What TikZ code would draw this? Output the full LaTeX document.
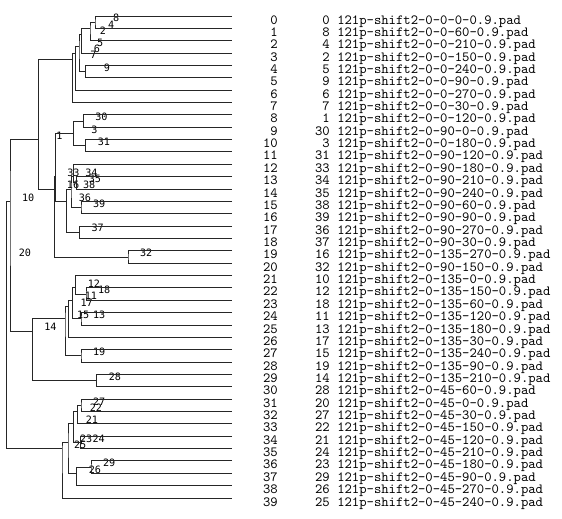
\documentclass[tikz,border=0pt]{standalone}
\usepackage{fontspec}
\newfontfamily\labelfont{DejaVu Sans Mono}

\begin{document}
\begin{tikzpicture}[x=0.75pt,y=-9.27pt,
    branch/.style={draw=black!85,line width=0.7pt},
    joinlabel/.style={font=\labelfont\fontsize{7.6pt}{8pt}\selectfont,inner sep=0pt,anchor=east,xshift=18.4pt,yshift=3pt},
    rowtext/.style={font=\ttfamily\fontsize{10.5pt}{11pt}\selectfont,inner sep=0pt,yshift=-6pt},
    idxtext/.style={rowtext,anchor=base east},
    filetext/.style={rowtext,anchor=base west}]
    \useasboundingbox (0,-1.2945) rectangle (562,40.696);
    % leaves: row end, index, id, file name
    \coordinate (row0)  at (232,0);  \node[idxtext] (idx0)  at (278,0)  {0};  \node[idxtext] (id0)  at (330,0)  {0};  \node[filetext] (file0)  at (337,0)  {121p-shift2-0-0-0-0.9.pad};
    \coordinate (row1)  at (232,1);  \node[idxtext] (idx1)  at (278,1)  {1};  \node[idxtext] (id1)  at (330,1)  {8};  \node[filetext] (file1)  at (337,1)  {121p-shift2-0-0-60-0.9.pad};
    \coordinate (row2)  at (232,2);  \node[idxtext] (idx2)  at (278,2)  {2};  \node[idxtext] (id2)  at (330,2)  {4};  \node[filetext] (file2)  at (337,2)  {121p-shift2-0-0-210-0.9.pad};
    \coordinate (row3)  at (232,3);  \node[idxtext] (idx3)  at (278,3)  {3};  \node[idxtext] (id3)  at (330,3)  {2};  \node[filetext] (file3)  at (337,3)  {121p-shift2-0-0-150-0.9.pad};
    \coordinate (row4)  at (232,4);  \node[idxtext] (idx4)  at (278,4)  {4};  \node[idxtext] (id4)  at (330,4)  {5};  \node[filetext] (file4)  at (337,4)  {121p-shift2-0-0-240-0.9.pad};
    \coordinate (row5)  at (232,5);  \node[idxtext] (idx5)  at (278,5)  {5};  \node[idxtext] (id5)  at (330,5)  {9};  \node[filetext] (file5)  at (337,5)  {121p-shift2-0-0-90-0.9.pad};
    \coordinate (row6)  at (232,6);  \node[idxtext] (idx6)  at (278,6)  {6};  \node[idxtext] (id6)  at (330,6)  {6};  \node[filetext] (file6)  at (337,6)  {121p-shift2-0-0-270-0.9.pad};
    \coordinate (row7)  at (232,7);  \node[idxtext] (idx7)  at (278,7)  {7};  \node[idxtext] (id7)  at (330,7)  {7};  \node[filetext] (file7)  at (337,7)  {121p-shift2-0-0-30-0.9.pad};
    \coordinate (row8)  at (232,8);  \node[idxtext] (idx8)  at (278,8)  {8};  \node[idxtext] (id8)  at (330,8)  {1};  \node[filetext] (file8)  at (337,8)  {121p-shift2-0-0-120-0.9.pad};
    \coordinate (row9)  at (232,9);  \node[idxtext] (idx9)  at (278,9)  {9};  \node[idxtext] (id9)  at (330,9)  {30}; \node[filetext] (file9)  at (337,9)  {121p-shift2-0-90-0-0.9.pad};
    \coordinate (row10) at (232,10); \node[idxtext] (idx10) at (278,10) {10}; \node[idxtext] (id10) at (330,10) {3};  \node[filetext] (file10) at (337,10) {121p-shift2-0-0-180-0.9.pad};
    \coordinate (row11) at (232,11); \node[idxtext] (idx11) at (278,11) {11}; \node[idxtext] (id11) at (330,11) {31}; \node[filetext] (file11) at (337,11) {121p-shift2-0-90-120-0.9.pad};
    \coordinate (row12) at (232,12); \node[idxtext] (idx12) at (278,12) {12}; \node[idxtext] (id12) at (330,12) {33}; \node[filetext] (file12) at (337,12) {121p-shift2-0-90-180-0.9.pad};
    \coordinate (row13) at (232,13); \node[idxtext] (idx13) at (278,13) {13}; \node[idxtext] (id13) at (330,13) {34}; \node[filetext] (file13) at (337,13) {121p-shift2-0-90-210-0.9.pad};
    \coordinate (row14) at (232,14); \node[idxtext] (idx14) at (278,14) {14}; \node[idxtext] (id14) at (330,14) {35}; \node[filetext] (file14) at (337,14) {121p-shift2-0-90-240-0.9.pad};
    \coordinate (row15) at (232,15); \node[idxtext] (idx15) at (278,15) {15}; \node[idxtext] (id15) at (330,15) {38}; \node[filetext] (file15) at (337,15) {121p-shift2-0-90-60-0.9.pad};
    \coordinate (row16) at (232,16); \node[idxtext] (idx16) at (278,16) {16}; \node[idxtext] (id16) at (330,16) {39}; \node[filetext] (file16) at (337,16) {121p-shift2-0-90-90-0.9.pad};
    \coordinate (row17) at (232,17); \node[idxtext] (idx17) at (278,17) {17}; \node[idxtext] (id17) at (330,17) {36}; \node[filetext] (file17) at (337,17) {121p-shift2-0-90-270-0.9.pad};
    \coordinate (row18) at (232,18); \node[idxtext] (idx18) at (278,18) {18}; \node[idxtext] (id18) at (330,18) {37}; \node[filetext] (file18) at (337,18) {121p-shift2-0-90-30-0.9.pad};
    \coordinate (row19) at (232,19); \node[idxtext] (idx19) at (278,19) {19}; \node[idxtext] (id19) at (330,19) {16}; \node[filetext] (file19) at (337,19) {121p-shift2-0-135-270-0.9.pad};
    \coordinate (row20) at (232,20); \node[idxtext] (idx20) at (278,20) {20}; \node[idxtext] (id20) at (330,20) {32}; \node[filetext] (file20) at (337,20) {121p-shift2-0-90-150-0.9.pad};
    \coordinate (row21) at (232,21); \node[idxtext] (idx21) at (278,21) {21}; \node[idxtext] (id21) at (330,21) {10}; \node[filetext] (file21) at (337,21) {121p-shift2-0-135-0-0.9.pad};
    \coordinate (row22) at (232,22); \node[idxtext] (idx22) at (278,22) {22}; \node[idxtext] (id22) at (330,22) {12}; \node[filetext] (file22) at (337,22) {121p-shift2-0-135-150-0.9.pad};
    \coordinate (row23) at (232,23); \node[idxtext] (idx23) at (278,23) {23}; \node[idxtext] (id23) at (330,23) {18}; \node[filetext] (file23) at (337,23) {121p-shift2-0-135-60-0.9.pad};
    \coordinate (row24) at (232,24); \node[idxtext] (idx24) at (278,24) {24}; \node[idxtext] (id24) at (330,24) {11}; \node[filetext] (file24) at (337,24) {121p-shift2-0-135-120-0.9.pad};
    \coordinate (row25) at (232,25); \node[idxtext] (idx25) at (278,25) {25}; \node[idxtext] (id25) at (330,25) {13}; \node[filetext] (file25) at (337,25) {121p-shift2-0-135-180-0.9.pad};
    \coordinate (row26) at (232,26); \node[idxtext] (idx26) at (278,26) {26}; \node[idxtext] (id26) at (330,26) {17}; \node[filetext] (file26) at (337,26) {121p-shift2-0-135-30-0.9.pad};
    \coordinate (row27) at (232,27); \node[idxtext] (idx27) at (278,27) {27}; \node[idxtext] (id27) at (330,27) {15}; \node[filetext] (file27) at (337,27) {121p-shift2-0-135-240-0.9.pad};
    \coordinate (row28) at (232,28); \node[idxtext] (idx28) at (278,28) {28}; \node[idxtext] (id28) at (330,28) {19}; \node[filetext] (file28) at (337,28) {121p-shift2-0-135-90-0.9.pad};
    \coordinate (row29) at (232,29); \node[idxtext] (idx29) at (278,29) {29}; \node[idxtext] (id29) at (330,29) {14}; \node[filetext] (file29) at (337,29) {121p-shift2-0-135-210-0.9.pad};
    \coordinate (row30) at (232,30); \node[idxtext] (idx30) at (278,30) {30}; \node[idxtext] (id30) at (330,30) {28}; \node[filetext] (file30) at (337,30) {121p-shift2-0-45-60-0.9.pad};
    \coordinate (row31) at (232,31); \node[idxtext] (idx31) at (278,31) {31}; \node[idxtext] (id31) at (330,31) {20}; \node[filetext] (file31) at (337,31) {121p-shift2-0-45-0-0.9.pad};
    \coordinate (row32) at (232,32); \node[idxtext] (idx32) at (278,32) {32}; \node[idxtext] (id32) at (330,32) {27}; \node[filetext] (file32) at (337,32) {121p-shift2-0-45-30-0.9.pad};
    \coordinate (row33) at (232,33); \node[idxtext] (idx33) at (278,33) {33}; \node[idxtext] (id33) at (330,33) {22}; \node[filetext] (file33) at (337,33) {121p-shift2-0-45-150-0.9.pad};
    \coordinate (row34) at (232,34); \node[idxtext] (idx34) at (278,34) {34}; \node[idxtext] (id34) at (330,34) {21}; \node[filetext] (file34) at (337,34) {121p-shift2-0-45-120-0.9.pad};
    \coordinate (row35) at (232,35); \node[idxtext] (idx35) at (278,35) {35}; \node[idxtext] (id35) at (330,35) {24}; \node[filetext] (file35) at (337,35) {121p-shift2-0-45-210-0.9.pad};
    \coordinate (row36) at (232,36); \node[idxtext] (idx36) at (278,36) {36}; \node[idxtext] (id36) at (330,36) {23}; \node[filetext] (file36) at (337,36) {121p-shift2-0-45-180-0.9.pad};
    \coordinate (row37) at (232,37); \node[idxtext] (idx37) at (278,37) {37}; \node[idxtext] (id37) at (330,37) {29}; \node[filetext] (file37) at (337,37) {121p-shift2-0-45-90-0.9.pad};
    \coordinate (row38) at (232,38); \node[idxtext] (idx38) at (278,38) {38}; \node[idxtext] (id38) at (330,38) {26}; \node[filetext] (file38) at (337,38) {121p-shift2-0-45-270-0.9.pad};
    \coordinate (row39) at (232,39); \node[idxtext] (idx39) at (278,39) {39}; \node[idxtext] (id39) at (330,39) {25}; \node[filetext] (file39) at (337,39) {121p-shift2-0-45-240-0.9.pad};
    % joins: x = height, y = mean row of the cluster
    \coordinate (n8)  at (95.0,0.5);   \node[joinlabel] (lab8)  at (n8)  {8};
    \coordinate (n4)  at (90.0,1.0);   \node[joinlabel] (lab4)  at (n4)  {4};
    \coordinate (n2)  at (81.7,1.5);   \node[joinlabel] (lab2)  at (n2)  {2};
    \coordinate (n9)  at (85.7,4.5);   \node[joinlabel] (lab9)  at (n9)  {9};
    \coordinate (n5)  at (79.0,2.5);   \node[joinlabel] (lab5)  at (n5)  {5};
    \coordinate (n6)  at (75.7,3.0);   \node[joinlabel] (lab6)  at (n6)  {6};
    \coordinate (n7)  at (72.3,3.5);   \node[joinlabel] (lab7)  at (n7)  {7};
    \coordinate (n30) at (83.3,8.5);   \node[joinlabel] (lab30) at (n30) {30};
    \coordinate (n31) at (85.7,10.5);  \node[joinlabel] (lab31) at (n31) {31};
    \coordinate (n3)  at (73.3,9.5);   \node[joinlabel] (lab3)  at (n3)  {3};
    \coordinate (n35) at (76.7,13.5);  \node[joinlabel] (lab35) at (n35) {35};
    \coordinate (n34) at (73.3,13.0);  \node[joinlabel] (lab34) at (n34) {34};
    \coordinate (n39) at (81.0,15.5);  \node[joinlabel] (lab39) at (n39) {39};
    \coordinate (n38) at (71.0,14.0);  \node[joinlabel] (lab38) at (n38) {38};
    \coordinate (n37) at (79.5,17.5);  \node[joinlabel] (lab37) at (n37) {37};
    \coordinate (n36) at (66.7,15.0);  \node[joinlabel] (lab36) at (n36) {36};
    \coordinate (n33) at (55.3,13.0);  \node[joinlabel] (lab33) at (n33) {33};
    \coordinate (n32) at (128.0,19.5); \node[joinlabel] (lab32) at (n32) {32};
    \coordinate (n16) at (54.9,14.0);  \node[joinlabel] (lab16) at (n16) {16};
    \coordinate (n1)  at (38.3,10.0);  \node[joinlabel] (lab1)  at (n1)  {1};
    \coordinate (n18) at (86.0,22.5);  \node[joinlabel] (lab18) at (n18) {18};
    \coordinate (n12) at (75.8,22.0);  \node[joinlabel] (lab12) at (n12) {12};
    \coordinate (n13) at (81.0,24.5);  \node[joinlabel] (lab13) at (n13) {13};
    \coordinate (n11) at (72.7,23.0);  \node[joinlabel] (lab11) at (n11) {11};
    \coordinate (n17) at (68.5,23.5);  \node[joinlabel] (lab17) at (n17) {17};
    \coordinate (n19) at (81.0,27.5);  \node[joinlabel] (lab19) at (n19) {19};
    \coordinate (n15) at (65.0,24.5);  \node[joinlabel] (lab15) at (n15) {15};
    \coordinate (n28) at (96.8,29.5);  \node[joinlabel] (lab28) at (n28) {28};
    \coordinate (n14) at (32.3,25.5);  \node[joinlabel] (lab14) at (n14) {14};
    \coordinate (n10) at (10.0,15.0);  \node[joinlabel] (lab10) at (n10) {10};
    \coordinate (n27) at (81.0,31.5);  \node[joinlabel] (lab27) at (n27) {27};
    \coordinate (n22) at (77.7,32.0);  \node[joinlabel] (lab22) at (n22) {22};
    \coordinate (n24) at (80.5,34.5);  \node[joinlabel] (lab24) at (n24) {24};
    \coordinate (n21) at (73.8,33.0);  \node[joinlabel] (lab21) at (n21) {21};
    \coordinate (n29) at (91.0,36.5);  \node[joinlabel] (lab29) at (n29) {29};
    \coordinate (n26) at (76.7,37.0);  \node[joinlabel] (lab26) at (n26) {26};
    \coordinate (n23) at (68.0,34.5);  \node[joinlabel] (lab23) at (n23) {23};
    \coordinate (n25) at (62.0,35.0);  \node[joinlabel] (lab25) at (n25) {25};
    \coordinate (n20) at (6.7,19.5);   \node[joinlabel] (lab20) at (n20) {20};
    % branches
    \draw[branch] (row0)  -| (n8)  |- (row1);
    \draw[branch] (n8)    -| (n4)  |- (row2);
    \draw[branch] (n4)    -| (n2)  |- (row3);
    \draw[branch] (row4)  -| (n9)  |- (row5);
    \draw[branch] (n2)    -| (n5)  |- (n9);
    \draw[branch] (n5)    -| (n6)  |- (row6);
    \draw[branch] (n6)    -| (n7)  |- (row7);
    \draw[branch] (row8)  -| (n30) |- (row9);
    \draw[branch] (row10) -| (n31) |- (row11);
    \draw[branch] (n30)   -| (n3)  |- (n31);
    \draw[branch] (row13) -| (n35) |- (row14);
    \draw[branch] (row12) -| (n34) |- (n35);
    \draw[branch] (row15) -| (n39) |- (row16);
    \draw[branch] (n34)   -| (n38) |- (n39);
    \draw[branch] (row17) -| (n37) |- (row18);
    \draw[branch] (n38)   -| (n36) |- (n37);
    \draw[branch] (n3)    -| (n33) |- (n36);
    \draw[branch] (row19) -| (n32) |- (row20);
    \draw[branch] (n33)   -| (n16) |- (n32);
    \draw[branch] (n7)    -| (n1)  |- (n16);
    \draw[branch] (row22) -| (n18) |- (row23);
    \draw[branch] (row21) -| (n12) |- (n18);
    \draw[branch] (row24) -| (n13) |- (row25);
    \draw[branch] (n12)   -| (n11) |- (n13);
    \draw[branch] (n11)   -| (n17) |- (row26);
    \draw[branch] (row27) -| (n19) |- (row28);
    \draw[branch] (n17)   -| (n15) |- (n19);
    \draw[branch] (row29) -| (n28) |- (row30);
    \draw[branch] (n15)   -| (n14) |- (n28);
    \draw[branch] (n1)    -| (n10) |- (n14);
    \draw[branch] (row31) -| (n27) |- (row32);
    \draw[branch] (n27)   -| (n22) |- (row33);
    \draw[branch] (row34) -| (n24) |- (row35);
    \draw[branch] (n22)   -| (n21) |- (n24);
    \draw[branch] (row36) -| (n29) |- (row37);
    \draw[branch] (n29)   -| (n26) |- (row38);
    \draw[branch] (n21)   -| (n23) |- (n26);
    \draw[branch] (n23)   -| (n25) |- (row39);
    \draw[branch] (n10)   -| (n20) |- (n25);
\end{tikzpicture}
\end{document}
